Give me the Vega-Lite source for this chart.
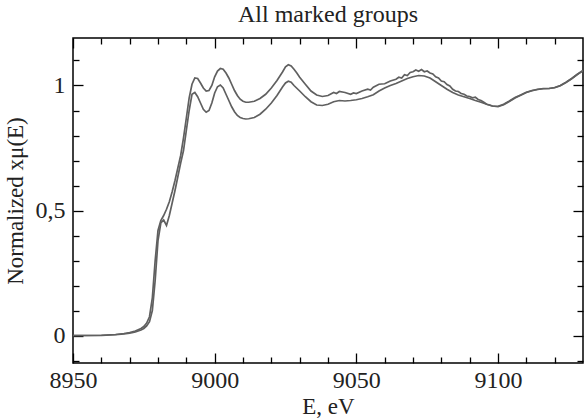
{
  "$schema": "https://vega.github.io/schema/vega-lite/v6.json",
  "autosize": "none",
  "width": 510,
  "height": 325,
  "padding": {"left": 73, "top": 38, "right": 1, "bottom": 56},
  "background": "white",
  "config": {
    "view": {"stroke": "#000", "strokeWidth": 1.5},
    "axis": {"domain": false, "grid": false, "tickColor": "#000", "tickWidth": 1.3, "labelFont": "Liberation Serif", "labelFontSize": 24, "labelColor": "#222", "titleFont": "Liberation Serif", "titleFontSize": 23, "titleFontWeight": "normal", "titleColor": "#222", "labelFlush": false, "labelOverlap": false}
  },
  "title": {"text": "All marked groups", "font": "Liberation Serif", "fontSize": 24, "fontWeight": "normal", "color": "#222", "offset": 10},
  "data": {"values": [
      {"s":"A","E":8950,"v":0.000},{"s":"A","E":8955,"v":0.000},{"s":"A","E":8960,"v":0.001},{"s":"A","E":8965,"v":0.004},{"s":"A","E":8968,"v":0.008},{"s":"A","E":8970,"v":0.012},{"s":"A","E":8972,"v":0.018},{"s":"A","E":8974,"v":0.028},{"s":"A","E":8975,"v":0.036},{"s":"A","E":8976,"v":0.050},{"s":"A","E":8977,"v":0.075},{"s":"A","E":8978,"v":0.15},{"s":"A","E":8979,"v":0.30},{"s":"A","E":8980,"v":0.42},{"s":"A","E":8981,"v":0.46},{"s":"A","E":8982,"v":0.48},{"s":"A","E":8983,"v":0.505},{"s":"A","E":8984,"v":0.535},{"s":"A","E":8985,"v":0.575},{"s":"A","E":8986,"v":0.62},{"s":"A","E":8987,"v":0.67},{"s":"A","E":8988,"v":0.72},{"s":"A","E":8989,"v":0.79},{"s":"A","E":8990,"v":0.87},{"s":"A","E":8991,"v":0.95},{"s":"A","E":8992,"v":1.005},{"s":"A","E":8993,"v":1.03},{"s":"A","E":8994,"v":1.028},{"s":"A","E":8995,"v":1.01},{"s":"A","E":8996,"v":0.99},{"s":"A","E":8997,"v":0.978},{"s":"A","E":8998,"v":0.98},{"s":"A","E":8999,"v":1.0},{"s":"A","E":9000,"v":1.035},{"s":"A","E":9001,"v":1.058},{"s":"A","E":9002,"v":1.068},{"s":"A","E":9003,"v":1.065},{"s":"A","E":9004,"v":1.05},{"s":"A","E":9005,"v":1.03},{"s":"A","E":9006,"v":1.005},{"s":"A","E":9007,"v":0.98},{"s":"A","E":9008,"v":0.96},{"s":"A","E":9009,"v":0.945},{"s":"A","E":9010,"v":0.937},{"s":"A","E":9011,"v":0.933},{"s":"A","E":9012,"v":0.933},{"s":"A","E":9014,"v":0.937},{"s":"A","E":9016,"v":0.948},{"s":"A","E":9018,"v":0.965},{"s":"A","E":9020,"v":0.99},{"s":"A","E":9022,"v":1.02},{"s":"A","E":9024,"v":1.055},{"s":"A","E":9025,"v":1.075},{"s":"A","E":9026,"v":1.083},{"s":"A","E":9027,"v":1.078},{"s":"A","E":9028,"v":1.065},{"s":"A","E":9029,"v":1.05},{"s":"A","E":9030,"v":1.033},{"s":"A","E":9032,"v":1.005},{"s":"A","E":9034,"v":0.978},{"s":"A","E":9036,"v":0.962},{"s":"A","E":9038,"v":0.956},{"s":"A","E":9040,"v":0.96},{"s":"A","E":9042,"v":0.972},{"s":"A","E":9043,"v":0.968},{"s":"A","E":9044,"v":0.976},{"s":"A","E":9046,"v":0.972},{"s":"A","E":9048,"v":0.965},{"s":"A","E":9049,"v":0.970},{"s":"A","E":9050,"v":0.968},{"s":"A","E":9052,"v":0.978},{"s":"A","E":9054,"v":0.985},{"s":"A","E":9055,"v":0.982},{"s":"A","E":9056,"v":0.993},{"s":"A","E":9058,"v":1.005},{"s":"A","E":9060,"v":1.007},{"s":"A","E":9062,"v":1.018},{"s":"A","E":9064,"v":1.025},{"s":"A","E":9065,"v":1.033},{"s":"A","E":9066,"v":1.030},{"s":"A","E":9067,"v":1.043},{"s":"A","E":9068,"v":1.04},{"s":"A","E":9069,"v":1.052},{"s":"A","E":9070,"v":1.055},{"s":"A","E":9071,"v":1.062},{"s":"A","E":9072,"v":1.057},{"s":"A","E":9073,"v":1.064},{"s":"A","E":9074,"v":1.055},{"s":"A","E":9075,"v":1.058},{"s":"A","E":9076,"v":1.05},{"s":"A","E":9077,"v":1.046},{"s":"A","E":9078,"v":1.035},{"s":"A","E":9079,"v":1.030},{"s":"A","E":9080,"v":1.018},{"s":"A","E":9081,"v":1.015},{"s":"A","E":9082,"v":1.004},{"s":"A","E":9083,"v":0.998},{"s":"A","E":9084,"v":0.985},{"s":"A","E":9085,"v":0.978},{"s":"A","E":9086,"v":0.976},{"s":"A","E":9087,"v":0.968},{"s":"A","E":9088,"v":0.965},{"s":"A","E":9089,"v":0.958},{"s":"A","E":9090,"v":0.956},{"s":"A","E":9091,"v":0.951},{"s":"A","E":9092,"v":0.953},{"s":"A","E":9093,"v":0.944},{"s":"A","E":9094,"v":0.940},{"s":"A","E":9095,"v":0.933},{"s":"A","E":9096,"v":0.925},{"s":"A","E":9097,"v":0.922},{"s":"A","E":9098,"v":0.918},{"s":"A","E":9100,"v":0.917},{"s":"A","E":9102,"v":0.925},{"s":"A","E":9104,"v":0.938},{"s":"A","E":9106,"v":0.952},{"s":"A","E":9108,"v":0.962},{"s":"A","E":9110,"v":0.973},{"s":"A","E":9112,"v":0.98},{"s":"A","E":9114,"v":0.985},{"s":"A","E":9116,"v":0.988},{"s":"A","E":9118,"v":0.988},{"s":"A","E":9120,"v":0.992},{"s":"A","E":9122,"v":1.0},{"s":"A","E":9124,"v":1.013},{"s":"A","E":9126,"v":1.028},{"s":"A","E":9128,"v":1.045},{"s":"A","E":9130,"v":1.06},
      {"s":"B","E":8950,"v":0.000},{"s":"B","E":8955,"v":0.000},{"s":"B","E":8960,"v":0.000},{"s":"B","E":8965,"v":0.003},{"s":"B","E":8968,"v":0.006},{"s":"B","E":8970,"v":0.009},{"s":"B","E":8972,"v":0.014},{"s":"B","E":8974,"v":0.022},{"s":"B","E":8975,"v":0.028},{"s":"B","E":8976,"v":0.038},{"s":"B","E":8977,"v":0.055},{"s":"B","E":8978,"v":0.10},{"s":"B","E":8979,"v":0.22},{"s":"B","E":8980,"v":0.38},{"s":"B","E":8981,"v":0.45},{"s":"B","E":8982,"v":0.462},{"s":"B","E":8983,"v":0.44},{"s":"B","E":8984,"v":0.48},{"s":"B","E":8985,"v":0.53},{"s":"B","E":8986,"v":0.58},{"s":"B","E":8987,"v":0.635},{"s":"B","E":8988,"v":0.69},{"s":"B","E":8989,"v":0.74},{"s":"B","E":8990,"v":0.82},{"s":"B","E":8991,"v":0.90},{"s":"B","E":8992,"v":0.965},{"s":"B","E":8993,"v":0.972},{"s":"B","E":8994,"v":0.955},{"s":"B","E":8995,"v":0.93},{"s":"B","E":8996,"v":0.905},{"s":"B","E":8997,"v":0.893},{"s":"B","E":8998,"v":0.9},{"s":"B","E":8999,"v":0.93},{"s":"B","E":9000,"v":0.97},{"s":"B","E":9001,"v":0.995},{"s":"B","E":9002,"v":1.002},{"s":"B","E":9003,"v":0.99},{"s":"B","E":9004,"v":0.965},{"s":"B","E":9005,"v":0.94},{"s":"B","E":9006,"v":0.915},{"s":"B","E":9007,"v":0.895},{"s":"B","E":9008,"v":0.88},{"s":"B","E":9009,"v":0.872},{"s":"B","E":9010,"v":0.868},{"s":"B","E":9011,"v":0.866},{"s":"B","E":9012,"v":0.867},{"s":"B","E":9014,"v":0.872},{"s":"B","E":9016,"v":0.885},{"s":"B","E":9018,"v":0.905},{"s":"B","E":9020,"v":0.93},{"s":"B","E":9022,"v":0.96},{"s":"B","E":9024,"v":0.995},{"s":"B","E":9025,"v":1.01},{"s":"B","E":9026,"v":1.017},{"s":"B","E":9027,"v":1.013},{"s":"B","E":9028,"v":1.0},{"s":"B","E":9030,"v":0.978},{"s":"B","E":9032,"v":0.955},{"s":"B","E":9034,"v":0.935},{"s":"B","E":9036,"v":0.922},{"s":"B","E":9038,"v":0.92},{"s":"B","E":9040,"v":0.925},{"s":"B","E":9042,"v":0.935},{"s":"B","E":9044,"v":0.94},{"s":"B","E":9046,"v":0.938},{"s":"B","E":9048,"v":0.94},{"s":"B","E":9050,"v":0.943},{"s":"B","E":9052,"v":0.948},{"s":"B","E":9054,"v":0.955},{"s":"B","E":9056,"v":0.963},{"s":"B","E":9058,"v":0.978},{"s":"B","E":9060,"v":0.99},{"s":"B","E":9062,"v":1.0},{"s":"B","E":9064,"v":1.008},{"s":"B","E":9066,"v":1.018},{"s":"B","E":9068,"v":1.028},{"s":"B","E":9070,"v":1.035},{"s":"B","E":9072,"v":1.04},{"s":"B","E":9074,"v":1.038},{"s":"B","E":9076,"v":1.03},{"s":"B","E":9078,"v":1.015},{"s":"B","E":9080,"v":1.0},{"s":"B","E":9082,"v":0.985},{"s":"B","E":9084,"v":0.972},{"s":"B","E":9086,"v":0.962},{"s":"B","E":9088,"v":0.955},{"s":"B","E":9090,"v":0.948},{"s":"B","E":9092,"v":0.94},{"s":"B","E":9094,"v":0.933},{"s":"B","E":9096,"v":0.925},{"s":"B","E":9098,"v":0.918},{"s":"B","E":9100,"v":0.915},{"s":"B","E":9102,"v":0.923},{"s":"B","E":9104,"v":0.936},{"s":"B","E":9106,"v":0.95},{"s":"B","E":9108,"v":0.961},{"s":"B","E":9110,"v":0.972},{"s":"B","E":9112,"v":0.979},{"s":"B","E":9114,"v":0.984},{"s":"B","E":9116,"v":0.987},{"s":"B","E":9118,"v":0.988},{"s":"B","E":9120,"v":0.991},{"s":"B","E":9122,"v":0.999},{"s":"B","E":9124,"v":1.012},{"s":"B","E":9126,"v":1.027},{"s":"B","E":9128,"v":1.044},{"s":"B","E":9130,"v":1.059}
  ]},
  "resolve": {"axis": {"x": "independent", "y": "independent"}},
  "layer": [
    {
      "mark": {"type": "line", "color": "#606060", "strokeWidth": 1.7, "clip": true},
      "encoding": {
        "detail": {"field": "s"},
        "x": {"field": "E", "type": "quantitative", "scale": {"domain": [8950, 9130], "nice": false, "zero": false},
              "axis": {"orient": "bottom", "values": [8950, 9000, 9050, 9100], "format": "d", "tickSize": -10, "labelPadding": 15, "labelFont": "Liberation Serif", "labelFontSize": 24, "title": "E, eV", "titleFont": "Liberation Serif", "titleFontSize": 23, "titlePadding": 3}},
        "y": {"field": "v", "type": "quantitative", "scale": {"domain": [-0.11, 1.19], "nice": false, "zero": false},
              "axis": {"orient": "left", "values": [0, 0.5, 1], "tickSize": -10, "labelPadding": 18, "labelFont": "Liberation Serif", "labelFontSize": 24, "labelExpr": "replace(format(datum.value, '~g'), '.', ',')", "title": "Normalized xμ(E)", "titleFont": "Liberation Serif", "titleFontSize": 23, "titlePadding": 8}}
      }
    },
    {
      "mark": {"type": "line", "strokeOpacity": 0},
      "encoding": {
        "detail": {"field": "s"},
        "x": {"field": "E", "type": "quantitative", "scale": {"domain": [8950, 9130], "nice": false, "zero": false},
              "axis": {"orient": "bottom", "values": [8960, 8970, 8980, 8990, 9010, 9020, 9030, 9040, 9060, 9070, 9080, 9090, 9110, 9120], "tickSize": -6, "labels": false, "title": null}},
        "y": {"field": "v", "type": "quantitative", "scale": {"domain": [-0.11, 1.19], "nice": false, "zero": false},
              "axis": {"orient": "left", "values": [-0.1, 0.1, 0.2, 0.3, 0.4, 0.6, 0.7, 0.8, 0.9, 1.1], "tickSize": -6, "labels": false, "title": null}}
      }
    },
    {
      "mark": {"type": "line", "strokeOpacity": 0},
      "encoding": {
        "detail": {"field": "s"},
        "x": {"field": "E", "type": "quantitative", "scale": {"domain": [8950, 9130], "nice": false, "zero": false},
              "axis": {"orient": "top", "values": [8950, 9000, 9050, 9100], "tickSize": -10, "labels": false, "title": null}},
        "y": {"field": "v", "type": "quantitative", "scale": {"domain": [-0.11, 1.19], "nice": false, "zero": false},
              "axis": {"orient": "right", "values": [0, 0.5, 1], "tickSize": -10, "labels": false, "title": null}}
      }
    },
    {
      "mark": {"type": "line", "strokeOpacity": 0},
      "encoding": {
        "detail": {"field": "s"},
        "x": {"field": "E", "type": "quantitative", "scale": {"domain": [8950, 9130], "nice": false, "zero": false},
              "axis": {"orient": "top", "values": [8960, 8970, 8980, 8990, 9010, 9020, 9030, 9040, 9060, 9070, 9080, 9090, 9110, 9120], "tickSize": -6, "labels": false, "title": null}},
        "y": {"field": "v", "type": "quantitative", "scale": {"domain": [-0.11, 1.19], "nice": false, "zero": false},
              "axis": {"orient": "right", "values": [-0.1, 0.1, 0.2, 0.3, 0.4, 0.6, 0.7, 0.8, 0.9, 1.1], "tickSize": -6, "labels": false, "title": null}}
      }
    }
  ]
}
